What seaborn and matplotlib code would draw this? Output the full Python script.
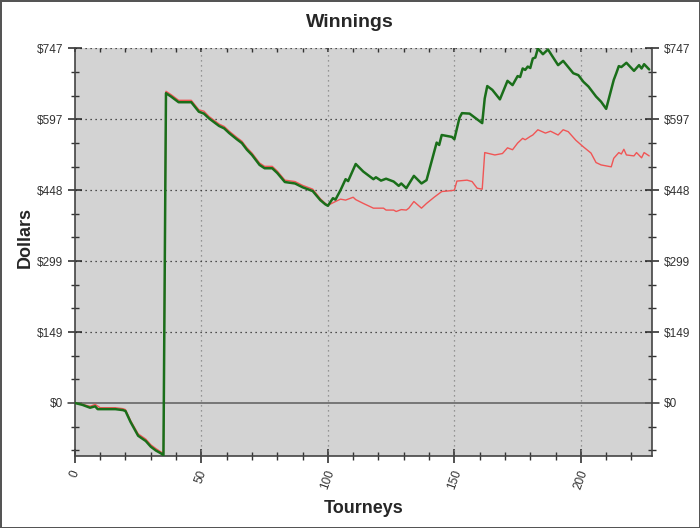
import matplotlib
matplotlib.use("Agg")
import matplotlib.pyplot as plt
from matplotlib.ticker import FixedLocator, MultipleLocator
import seaborn as sns
import pandas as pd

# valeurs (tournoi, gains en $)
green_t = [0, 3, 6, 8, 9, 16, 19, 20, 22, 25, 28, 30, 32, 34, 35, 36, 38, 41, 46, 49,
           51, 53, 57, 59, 61, 64, 66, 68, 70, 73, 75, 78, 80, 83, 87, 90, 94, 97, 99, 100,
           102, 103, 105, 107, 108, 111, 114, 118, 119, 121, 123, 126, 128, 129, 131, 134,
           137, 139, 143, 144, 145, 149, 150, 152, 153, 156, 158, 161, 162, 163, 165, 168,
           171, 173, 175, 176, 177, 178, 179, 180, 181, 182, 183, 185, 187, 191, 193, 197,
           199, 201, 203, 206, 208, 210, 213, 214, 215, 216, 218, 221, 223, 224, 225, 227]
green_v = [0, -4, -10, -7, -13, -13, -15, -17, -40, -69, -80, -92, -100, -106, -110, 652, 645,
           633, 633, 613, 609, 599, 583, 578, 568, 555, 547, 533, 522, 501, 494, 494, 484, 465,
           462, 454, 446, 427, 418, 415, 431, 428, 448, 471, 467, 503, 487, 471, 475, 468, 472,
           466, 457, 462, 452, 478, 462, 469, 548, 543, 564, 560, 555, 600, 610, 609, 601, 589,
           641, 667, 659, 639, 678, 669, 688, 686, 704, 701, 708, 705, 725, 727, 746, 734, 744,
           711, 720, 694, 690, 676, 666, 645, 634, 619, 680, 694, 709, 707, 716, 699, 711, 704,
           713, 702]

red_t = [0, 3, 6, 8, 10, 16, 19, 20, 22, 25, 28, 30, 32, 34, 35, 36, 38, 41, 46, 49,
         51, 53, 57, 59, 61, 64, 66, 68, 70, 73, 75, 78, 80, 83, 87, 90, 94, 97, 99, 100,
         103, 105, 107, 110, 111, 114, 118, 122, 123, 126, 127, 129, 131, 132, 134, 137, 139,
         142, 145, 149, 150, 151, 155, 157, 159, 161, 162, 166, 168, 169, 171, 173, 175, 177,
         178, 180, 181, 183, 186, 188, 191, 193, 195, 198, 201, 204, 206, 208, 212, 213, 215,
         216, 217, 218, 221, 222, 224, 225, 227]
red_v = [0, -3, -7, -3, -10, -10, -12, -14, -37, -65, -76, -88, -96, -103, -106, 656, 649,
         637, 637, 617, 614, 603, 587, 582, 572, 559, 551, 537, 526, 505, 498, 498, 488, 469,
         466, 458, 450, 430, 420, 416, 424, 429, 427, 433, 428, 420, 410, 410, 406, 406, 403,
         407, 406, 410, 424, 410, 420, 433, 445, 447, 448, 467, 469, 466, 452, 450, 527, 522,
         524, 525, 537, 533, 547, 557, 554, 561, 564, 575, 568, 572, 564, 575, 571, 553, 539,
         526, 506, 501, 497, 515, 527, 524, 534, 522, 520, 527, 516, 527, 520]

y_ticks = [0, 149.3, 298.6, 447.9, 597.2, 746.5]
y_labels = ["$0", "$149", "$299", "$448", "$597", "$747"]
x_ticks = [0, 50, 100, 150, 200]

sns.set_style("white", {"axes.facecolor": "#d3d3d3"})
plt.rcParams["font.family"] = ["Liberation Sans", "DejaVu Sans"]

fig = plt.figure(figsize=(7, 5.28), dpi=100)
fig.patch.set_edgecolor("#555555")
fig.patch.set_linewidth(2)
ax = fig.add_axes([0.107, 0.136, 0.824, 0.773])

red_df = pd.DataFrame({"t": red_t, "v": red_v})
green_df = pd.DataFrame({"t": green_t, "v": green_v})
sns.lineplot(data=red_df, x="t", y="v", color="#f05555", linewidth=1.0, ax=ax, zorder=3)
sns.lineplot(data=green_df, x="t", y="v", color="#1a6e1a", linewidth=1.8, ax=ax, zorder=4)

ax.set_xlim(0, 228)
ax.set_ylim(-112, 747)

# grille
for xv in x_ticks[1:]:
    ax.axvline(xv, color="#808080", linestyle=(0, (1, 3)), linewidth=0.9, zorder=1)
for yv in y_ticks[1:]:
    ax.axhline(yv, color="#222222", linestyle=(0, (1, 3)), linewidth=0.9, zorder=1)
ax.axhline(0, xmin=-0.012, xmax=1.012, color="#666666", linewidth=1.2, zorder=2, clip_on=False)

ax.yaxis.set_major_locator(FixedLocator(y_ticks))
ax.yaxis.set_minor_locator(MultipleLocator(y_ticks[1] / 3))
ax.set_yticklabels(y_labels)
ax.xaxis.set_major_locator(FixedLocator(x_ticks))
ax.xaxis.set_minor_locator(MultipleLocator(10))
ax.set_xticklabels([str(x) for x in x_ticks], rotation=70, ha="center", va="top")

ax.tick_params(axis="y", which="both", left=True, right=True, labelleft=True, labelright=True,
               direction="inout", color="#333333", labelsize=8.5, labelcolor="#333333")
ax.tick_params(axis="y", which="major", length=10, width=1.2)
ax.tick_params(axis="y", which="minor", length=6, width=1)
ax.tick_params(axis="x", which="both", bottom=True, direction="inout", color="#333333",
               labelsize=8.5, labelcolor="#333333")
ax.tick_params(axis="x", which="major", length=10, width=1.2, pad=4)
ax.tick_params(axis="x", which="minor", length=6, width=1)
# petits tirets vers l'intérieur en haut
ax.tick_params(axis="x", which="both", top=True, labeltop=False)
for tk in ax.xaxis.get_major_ticks() + ax.xaxis.get_minor_ticks():
    tk.tick2line.set_markersize(3)
    tk.tick2line.set_marker(3)

for side in ["left", "bottom", "right"]:
    ax.spines[side].set_color("#444444")
    ax.spines[side].set_linewidth(1.2)
ax.spines["top"].set_visible(False)

fig.text(0.5, 0.958, "Winnings", fontsize=14, fontweight="bold", ha="center", va="center")
ax.set_xlabel("Tourneys", fontsize=13, fontweight="bold", labelpad=6)
ax.set_ylabel("Dollars", fontsize=13, fontweight="bold")
ax.yaxis.set_label_coords(-0.072, 0.535)

fig.savefig("out.png", dpi=100, edgecolor=fig.get_edgecolor())
